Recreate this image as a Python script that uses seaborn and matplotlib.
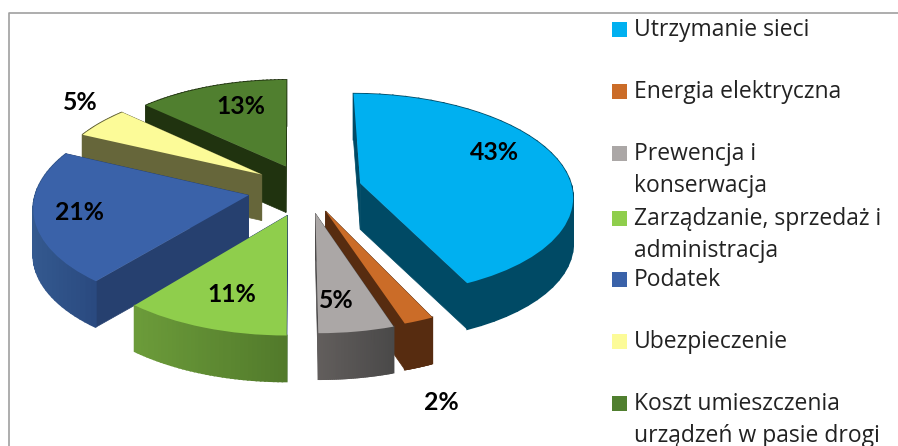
import numpy as np
import matplotlib
matplotlib.use("Agg")
import matplotlib.pyplot as plt
from matplotlib.patches import Rectangle
from matplotlib.transforms import Transform
import seaborn as sns

# Dane
etykiety = ["Utrzymanie sieci", "Energia elektryczna", "Prewencja i\nkonserwacja",
            "Zarządzanie, sprzedaż i\nadministracja", "Podatek", "Ubezpieczenie",
            "Koszt umieszczenia\nurządzeń w pasie drogi"]
wartosci = [43, 2, 5, 11, 21, 5, 13]
kolory = ["#00b0f0", "#cb6c28", "#aba7a6", "#8fce4c", "#3a62a9", "#fcfb98", "#507f2f"]
sciana_bok = ["#004a65", "#572c10", "#4c4a4a", "#26406f", "#26406f", "#66663a", "#20330f"]
sciana_luk_l = ["#004a65", "#572c10", "#625e5c", "#6c9c3a", "#34598f", "#66663a", "#20330f"]
sciana_luk_p = ["#004a65", "#572c10", "#4a4949", "#527a2b", "#2a4a80", "#66663a", "#20330f"]
wysuniecie = [0.26, 0.23, 0.24, 0.27, 0.28, 0.26, 0.25]

# Parametry rzutu 3D (w pikselach)
X0, Y0, R, K, P, GLEB = 292, 189, 212, 0.475, 0.11, 46
PRZES_X = 0.07


class Rzut(Transform):
    input_dims = output_dims = 2

    def __init__(self, dy=0):
        super().__init__()
        self.dy = dy

    def transform_non_affine(self, pts):
        pts = np.asarray(pts)
        s = 1 / (1 + P * pts[:, 1])
        return np.column_stack([X0 + R * pts[:, 0] * s,
                                Y0 - R * K * pts[:, 1] * s + self.dy])


def punkt(srodek, kat, r=1.0):
    return np.array([srodek[0] + r * np.sin(kat), srodek[1] + r * np.cos(kat)])


def sciany(ax, srodek, k1, k2, c_bok, c_l, c_p):
    rz, rz2 = Rzut(), Rzut(GLEB)
    s = np.array([srodek])
    sciany_proste = []
    for kat in (k1, k2):
        a = np.vstack([s, punkt(srodek, kat)[None, :]])
        sciany_proste.append(np.vstack([rz.transform(a), rz2.transform(a)[::-1]]))
    sciany_proste.sort(key=lambda q: q[:, 1].mean())
    for q in sciany_proste:
        ax.fill(q[:, 0], q[:, 1], color=c_bok, lw=0.5, zorder=3)
    # Luk z gradientem
    katy = np.linspace(k1, k2, 40)
    pkt = np.array([punkt(srodek, a) for a in katy])
    g, d = rz.transform(pkt), rz2.transform(pkt)
    lewo, prawo = g[:, 0].min(), g[:, 0].max()
    cl, cp = np.array(matplotlib.colors.to_rgb(c_l)), np.array(matplotlib.colors.to_rgb(c_p))
    for i in range(len(katy) - 1):
        t = (g[i, 0] - lewo) / max(prawo - lewo, 1)
        q = np.array([g[i], g[i + 1], d[i + 1], d[i]])
        ax.fill(q[:, 0], q[:, 1], color=tuple(cl + (cp - cl) * t), lw=1.2, zorder=3)


sns.set_theme(style="white")
fig = plt.figure(figsize=(8.98, 4.46), dpi=100)
ax = fig.add_axes([0, 0, 1, 1])

# Gorne powierzchnie
klin, _ = ax.pie(wartosci, colors=sns.color_palette(kolory), explode=wysuniecie,
                 startangle=90, counterclock=False, center=(PRZES_X, 0),
                 wedgeprops={"linewidth": 0, "zorder": 5})
ax.set_aspect("auto")
ax.set(xlim=(0, 898), ylim=(446, 0))
ax.axis("off")
for w in klin:
    w.set_transform(Rzut() + ax.transData)
    w.set_clip_on(False)

# Sciany boczne: od tylu do przodu
granice = np.cumsum([0] + wartosci) / 100 * 2 * np.pi
srodkowe = (granice[:-1] + granice[1:]) / 2
kolejka = sorted(range(len(wartosci)), key=lambda i: -np.cos(srodkowe[i]))
for i in kolejka:
    srodek = (PRZES_X + wysuniecie[i] * np.sin(srodkowe[i]), wysuniecie[i] * np.cos(srodkowe[i]))
    sciany(ax, srodek, granice[i], granice[i + 1], sciana_bok[i], sciana_luk_l[i], sciana_luk_p[i])

# Ramka
ax.plot([9, 9, 898], [446, 13, 13], color="#a0a0a0", lw=1.2, zorder=1)

# Etykiety procentowe
pozycje_proc = [(495, 153), (441, 403), (336, 300), (232, 294), (79, 212), (80, 102), (241, 106)]
for (x, y), v in zip(pozycje_proc, wartosci):
    ax.text(x, y, f"{v}%", ha="center", va="center", fontsize=17.8, fontweight="bold",
            family="Lato", color="black", zorder=8)

# Legenda
legenda_y = [29, 91, 153, 218, 279, 341, 403]
for y, kolor, tekst in zip(legenda_y, kolory, etykiety):
    ax.add_patch(Rectangle((612, y - 7), 15, 15, color=kolor, lw=0))
    ax.text(634, y - 11, tekst, ha="left", va="top", fontsize=16.5, family="Open Sans",
            color="#222222", linespacing=1.42)

fig.savefig("out.png", dpi=100)
plt.close()
